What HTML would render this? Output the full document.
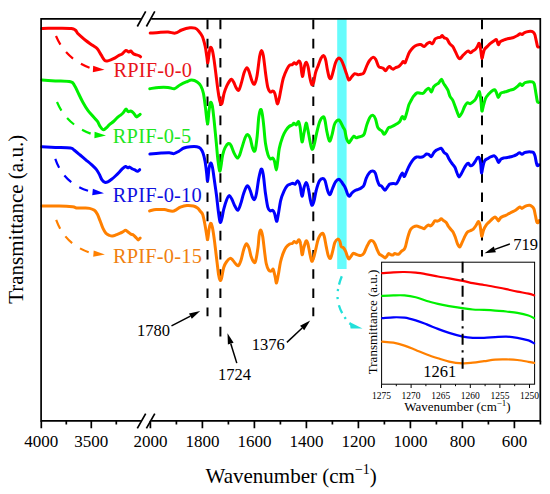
<!DOCTYPE html><html><head><meta charset="utf-8"><style>html,body{margin:0;padding:0;background:#fff;width:550px;height:494px;overflow:hidden;position:relative}</style></head><body><svg width="550" height="494" viewBox="0 0 550 494" style="position:absolute;left:0;top:0"><rect x="337.2" y="19.3" width="9.4" height="249.7" fill="#66fcfc"/><g stroke="#000" stroke-width="2" stroke-dasharray="9.6 9.6" fill="none"><path d="M207.5,19.6 V316.2"/><path d="M220.4,19.6 V336.7"/><path d="M313.3,19.6 V316.2"/><path d="M482.0,19.6 V256.6"/></g><g fill="none" stroke-width="3" stroke-linejoin="round" stroke-linecap="round"><path stroke="#ff0000" d="M41.9,28.5 C46.8,28.5 65.5,27.6 71.5,28.5 C77.5,29.4 75.8,31.9 78.2,33.9 C80.6,35.9 83.4,38.6 85.8,40.5 C88.2,42.4 90.6,43.9 92.5,45.3 C94.4,46.7 95.9,47.2 97.3,48.8 C98.7,50.4 99.8,52.9 101.1,54.9 C102.4,56.9 103.6,59.6 104.9,60.6 C106.2,61.6 107.3,60.9 108.7,60.6 C110.1,60.3 111.9,59.5 113.5,58.7 C115.1,57.9 116.9,56.6 118.3,55.8 C119.7,55.0 120.8,54.8 122.1,53.9 C123.4,53.0 124.8,50.8 125.9,50.5 C127.0,50.2 128.0,51.9 128.8,52.0 C129.6,52.1 129.9,50.7 130.7,51.0 C131.5,51.3 132.6,53.2 133.6,53.9 C134.6,54.5 135.4,54.6 136.4,54.9 C137.4,55.2 138.6,55.5 139.3,55.8 C140.0,56.1 140.4,56.6 140.6,56.8"/><path stroke="#00f000" d="M41.9,79.9 C44.1,80.1 50.5,80.6 55.3,80.9 C60.1,81.2 67.3,81.1 70.5,81.8 C73.7,82.5 73.1,83.4 74.4,85.3 C75.7,87.2 76.8,90.0 78.2,92.9 C79.6,95.8 81.4,99.6 83.0,102.5 C84.6,105.4 86.1,107.9 87.7,110.1 C89.3,112.3 90.9,113.9 92.5,115.8 C94.1,117.7 96.0,119.5 97.3,121.2 C98.6,123.0 99.1,124.9 100.1,126.3 C101.0,127.7 102.0,129.3 103.0,129.6 C104.0,129.9 104.8,129.1 105.9,128.2 C107.0,127.3 108.4,125.5 109.7,124.4 C111.0,123.3 112.2,122.6 113.5,121.5 C114.8,120.4 116.2,118.7 117.3,117.7 C118.4,116.7 119.2,116.2 120.2,115.4 C121.2,114.6 122.0,114.0 123.0,113.0 C124.0,112.0 125.0,109.3 125.9,109.1 C126.8,108.9 127.4,111.3 128.2,111.6 C129.0,111.9 129.8,110.8 130.7,111.0 C131.6,111.2 132.6,112.0 133.5,113.0 C134.4,114.0 135.6,116.3 136.4,116.8 C137.2,117.3 137.7,116.2 138.3,115.8 C138.9,115.4 139.9,114.5 140.2,114.3"/><path stroke="#0000ff" d="M41.9,146.8 C44.1,146.9 50.5,147.2 55.3,147.4 C60.1,147.6 67.3,147.5 70.5,148.0 C73.7,148.5 72.8,149.1 74.4,150.3 C76.0,151.5 78.2,153.4 80.1,155.0 C82.0,156.6 83.9,158.2 85.8,159.8 C87.7,161.4 89.8,163.0 91.5,164.6 C93.2,166.2 95.0,167.8 96.3,169.4 C97.6,171.0 98.2,172.3 99.2,174.1 C100.2,175.8 101.0,178.5 102.0,179.9 C103.0,181.3 103.9,182.0 104.9,182.3 C105.9,182.6 106.7,182.3 107.8,181.8 C108.9,181.3 110.3,180.3 111.6,179.3 C112.9,178.3 114.1,177.2 115.4,176.0 C116.7,174.8 118.1,173.4 119.2,172.2 C120.3,171.0 121.0,169.9 122.1,169.0 C123.1,168.1 124.5,166.7 125.5,166.5 C126.5,166.3 127.1,167.7 127.8,167.8 C128.5,167.9 128.9,166.9 129.7,167.1 C130.5,167.3 131.6,168.5 132.6,169.0 C133.6,169.5 134.7,169.9 135.5,170.3 C136.3,170.7 136.7,171.4 137.4,171.3 C138.1,171.2 139.3,170.0 139.7,169.7"/><path stroke="#ff8000" d="M41.9,205.9 C44.8,205.9 54.0,205.9 59.1,206.1 C64.2,206.2 69.5,206.5 72.5,206.8 C75.5,207.1 75.3,207.8 77.2,208.0 C79.1,208.2 81.8,207.9 83.9,208.0 C86.0,208.1 87.8,208.0 89.6,208.4 C91.3,208.8 93.1,209.4 94.4,210.3 C95.7,211.2 96.3,212.3 97.3,214.1 C98.2,215.8 99.1,218.4 100.1,220.8 C101.0,223.2 102.0,226.3 103.0,228.4 C104.0,230.5 104.8,232.0 105.9,233.2 C107.0,234.4 108.6,235.0 109.7,235.5 C110.8,236.0 111.4,236.1 112.5,236.0 C113.6,235.9 115.1,235.2 116.4,234.7 C117.7,234.2 119.1,233.7 120.2,233.2 C121.3,232.7 122.1,232.2 123.0,231.7 C123.9,231.2 124.7,230.3 125.5,230.3 C126.3,230.3 126.9,231.1 127.8,231.7 C128.7,232.3 129.8,233.5 130.7,234.1 C131.6,234.7 132.6,234.4 133.5,235.1 C134.4,235.8 135.6,237.2 136.4,238.0 C137.2,238.8 137.7,239.9 138.3,239.9 C138.9,239.9 139.9,238.3 140.2,238.0"/><path stroke="#ff0000" d="M150.2,33.1 C151.6,33.0 155.9,32.6 158.9,32.4 C161.9,32.2 165.3,31.9 168.0,32.0 C170.7,32.1 173.0,33.4 175.3,33.1 C177.6,32.8 179.3,30.9 181.7,30.0 C184.1,29.1 187.7,28.1 189.9,27.8 C192.1,27.5 193.6,27.7 195.0,28.2 C196.4,28.7 197.4,29.5 198.6,30.9 C199.8,32.3 201.2,34.0 202.3,36.4 C203.4,38.8 204.2,42.2 205.0,45.5 C205.8,48.8 206.3,53.5 206.8,56.4 C207.3,59.3 207.4,63.4 207.8,62.8 C208.2,62.2 208.8,55.4 209.2,52.8 C209.6,50.2 210.0,47.8 210.5,47.3 C211.0,46.8 211.7,48.0 212.3,50.1 C212.9,52.2 213.5,56.0 214.1,60.1 C214.7,64.2 215.4,69.9 216.0,74.7 C216.6,79.5 217.2,85.0 217.8,89.2 C218.4,93.5 219.1,97.7 219.6,100.2 C220.1,102.7 220.6,103.9 221.1,104.2 C221.6,104.5 221.8,103.9 222.3,102.0 C222.8,100.1 223.4,95.6 224.2,92.9 C225.0,90.2 226.0,87.6 226.9,85.6 C227.8,83.6 228.8,82.1 229.6,81.0 C230.3,79.9 230.7,79.0 231.4,79.2 C232.1,79.4 232.8,80.6 233.6,82.0 C234.4,83.4 235.2,86.0 236.0,87.4 C236.8,88.8 237.8,91.0 238.7,90.2 C239.6,89.5 240.5,85.8 241.4,82.9 C242.3,80.0 243.2,75.3 244.1,72.8 C245.0,70.3 246.1,67.8 246.9,67.7 C247.8,67.6 248.3,69.7 249.2,71.9 C250.0,74.1 251.1,79.0 252.0,81.0 C252.9,83.0 253.7,84.8 254.5,84.1 C255.3,83.3 256.0,81.1 256.9,76.5 C257.8,71.9 258.9,60.7 259.6,56.4 C260.4,52.1 260.8,50.8 261.4,50.6 C262.0,50.5 262.6,51.8 263.3,55.5 C264.0,59.2 264.8,67.5 265.5,72.8 C266.2,78.1 267.0,84.2 267.8,87.4 C268.6,90.6 269.4,91.4 270.2,92.0 C271.0,92.6 272.0,90.9 272.7,91.1 C273.4,91.2 274.1,91.7 274.6,92.9 C275.2,94.1 275.6,96.6 276.0,98.4 C276.4,100.2 276.8,103.5 277.3,103.8 C277.8,104.1 278.2,102.3 278.8,100.2 C279.4,98.1 279.9,94.8 280.6,91.1 C281.4,87.4 282.2,81.9 283.3,78.3 C284.4,74.7 285.9,71.4 287.0,69.2 C288.1,67.0 288.8,66.0 289.7,65.2 C290.6,64.4 291.6,65.0 292.4,64.6 C293.1,64.2 293.5,62.9 294.2,62.8 C294.9,62.7 295.6,64.4 296.4,64.1 C297.2,63.8 298.1,61.1 298.8,61.0 C299.5,60.9 300.0,61.1 300.6,63.7 C301.2,66.3 301.7,76.2 302.4,76.5 C303.1,76.8 303.9,68.0 304.6,65.6 C305.3,63.2 305.8,62.0 306.4,62.3 C307.0,62.6 307.6,64.7 308.2,67.4 C308.8,70.1 309.4,75.4 310.0,78.3 C310.6,81.2 311.2,84.1 311.8,84.7 C312.4,85.3 313.1,84.0 313.7,82.0 C314.3,80.0 314.8,75.5 315.5,72.8 C316.2,70.1 317.3,68.0 318.2,65.6 C319.1,63.2 320.1,60.0 321.0,58.3 C321.9,56.6 322.6,55.4 323.3,55.5 C324.1,55.6 324.8,56.9 325.5,59.2 C326.2,61.5 326.7,66.2 327.3,69.2 C327.9,72.2 328.6,75.9 329.2,77.4 C329.8,78.9 330.4,79.1 331.0,78.3 C331.6,77.5 332.1,75.4 332.8,72.8 C333.6,70.2 334.6,65.2 335.5,62.8 C336.4,60.4 337.4,58.8 338.3,58.3 C339.2,57.8 340.1,58.5 341.0,59.7 C341.9,60.9 342.8,63.2 343.7,65.6 C344.6,67.9 345.6,71.4 346.5,73.8 C347.4,76.2 347.9,79.6 348.8,80.1 C349.7,80.5 350.9,77.5 351.9,76.5 C352.9,75.5 353.7,74.1 354.7,73.8 C355.7,73.5 356.9,74.6 358.0,74.7 C359.1,74.8 360.0,74.6 361.0,74.3 C362.0,74.0 362.9,74.1 363.8,72.8 C364.7,71.5 365.6,68.5 366.5,66.5 C367.4,64.5 368.1,62.5 369.2,61.0 C370.3,59.5 371.8,57.7 372.9,57.4 C374.0,57.1 374.7,57.7 375.6,59.2 C376.6,60.7 377.6,65.1 378.6,66.5 C379.6,67.9 380.6,67.4 381.4,67.7 C382.2,68.0 382.5,67.8 383.2,68.3 C383.9,68.8 384.8,70.8 385.6,70.7 C386.4,70.6 387.1,68.4 387.8,67.7 C388.5,67.0 389.0,66.4 389.6,66.5 C390.2,66.6 390.8,67.8 391.4,68.3 C392.0,68.8 392.5,69.3 393.2,69.2 C393.9,69.1 394.5,68.2 395.4,67.7 C396.3,67.2 397.7,67.2 398.7,66.5 C399.7,65.8 400.6,64.5 401.4,63.7 C402.1,62.9 402.6,61.6 403.2,61.5 C403.8,61.4 404.5,63.3 405.1,62.8 C405.7,62.3 406.1,60.1 406.9,58.3 C407.6,56.5 408.5,53.7 409.6,51.9 C410.7,50.1 412.1,48.4 413.3,47.3 C414.5,46.2 415.7,45.5 416.9,45.1 C418.1,44.7 419.4,44.4 420.6,44.6 C421.8,44.8 423.1,46.5 424.2,46.4 C425.3,46.2 426.1,44.4 427.0,43.7 C427.9,43.0 428.8,42.2 429.7,42.2 C430.6,42.2 431.5,44.2 432.4,43.7 C433.3,43.2 434.2,40.1 435.1,39.1 C436.0,38.1 437.0,38.0 437.9,37.7 C438.8,37.4 439.9,37.7 440.6,37.3 C441.3,36.9 441.5,35.4 442.1,35.5 C442.7,35.6 443.4,37.1 444.2,37.7 C445.0,38.3 446.1,38.1 447.0,39.1 C447.9,40.1 448.8,42.5 449.7,43.7 C450.6,44.9 451.7,45.0 452.7,46.4 C453.7,47.8 454.6,50.1 455.5,51.9 C456.4,53.7 457.4,56.3 458.2,57.4 C458.9,58.5 459.2,59.0 460.0,58.7 C460.8,58.4 461.9,56.6 462.8,55.6 C463.7,54.6 464.6,53.6 465.5,52.8 C466.4,52.0 467.4,51.0 468.2,51.0 C469.0,51.0 469.6,52.8 470.4,52.8 C471.2,52.8 471.9,51.6 472.8,51.0 C473.7,50.4 474.7,50.0 475.5,49.2 C476.3,48.4 476.8,47.4 477.4,46.4 C478.0,45.4 478.7,42.8 479.2,43.3 C479.7,43.8 480.2,46.7 480.6,49.2 C481.1,51.7 481.5,57.5 481.9,58.3 C482.3,59.0 482.8,55.2 483.2,53.7 C483.6,52.2 483.9,50.4 484.6,49.2 C485.3,48.0 486.5,47.3 487.4,46.4 C488.3,45.5 489.0,44.6 490.1,43.7 C491.2,42.8 492.7,41.7 493.8,41.0 C494.9,40.3 495.8,39.1 496.5,39.7 C497.2,40.3 497.7,44.2 498.3,44.6 C498.9,45.0 499.3,42.6 500.1,41.9 C500.9,41.2 501.8,40.9 502.9,40.4 C504.0,39.9 505.3,39.5 506.5,39.1 C507.7,38.7 509.0,38.5 510.2,38.2 C511.4,37.9 512.6,37.8 513.8,37.3 C515.0,36.8 516.4,36.1 517.5,35.5 C518.6,34.9 519.5,33.9 520.2,33.7 C521.0,33.6 521.4,34.7 522.0,34.6 C522.6,34.5 523.1,33.6 523.9,33.1 C524.7,32.6 525.5,32.2 526.6,31.9 C527.7,31.6 529.1,31.3 530.2,31.3 C531.3,31.3 532.2,31.3 533.0,31.9 C533.8,32.4 534.3,33.2 534.8,34.6 C535.3,36.0 535.6,38.1 536.1,40.1 C536.6,42.1 537.0,45.2 537.5,46.4 C538.0,47.5 538.6,46.9 538.8,47.0"/><path stroke="#00f000" d="M149.8,88.7 C151.3,88.5 155.9,87.6 158.9,87.4 C161.9,87.2 165.4,87.2 168.0,87.4 C170.6,87.6 172.4,89.1 174.4,88.7 C176.4,88.3 177.9,86.1 179.9,85.0 C181.9,83.9 184.3,82.7 186.3,81.9 C188.3,81.1 189.9,80.1 191.7,80.1 C193.5,80.1 195.7,80.9 197.2,81.9 C198.7,82.9 199.8,84.0 200.8,85.9 C201.8,87.8 202.6,89.5 203.4,93.2 C204.2,96.9 204.8,102.9 205.5,108.0 C206.2,113.1 206.9,123.2 207.5,123.7 C208.1,124.2 208.5,114.6 209.0,111.1 C209.5,107.6 210.0,103.5 210.5,102.5 C211.0,101.5 211.6,102.9 212.2,105.4 C212.8,107.9 213.1,111.5 213.8,117.6 C214.5,123.7 215.5,135.0 216.2,141.9 C216.9,148.8 217.2,154.2 217.8,159.0 C218.4,163.8 219.1,169.9 219.6,171.0 C220.1,172.1 220.6,168.2 221.1,165.5 C221.6,162.8 222.0,157.9 222.7,154.9 C223.4,151.9 224.1,149.5 225.1,147.6 C226.1,145.7 227.4,143.9 228.4,143.5 C229.4,143.1 229.9,143.5 230.8,145.1 C231.8,146.7 233.0,151.0 234.1,153.2 C235.2,155.4 236.4,157.8 237.3,158.1 C238.2,158.4 238.9,156.8 239.7,154.9 C240.5,153.0 241.2,149.8 242.2,146.8 C243.1,143.8 244.5,139.0 245.4,137.0 C246.3,135.0 247.0,134.3 247.8,134.6 C248.6,134.9 249.5,136.3 250.3,138.6 C251.1,140.9 251.9,146.4 252.7,148.4 C253.5,150.4 254.3,152.6 255.1,150.5 C255.8,148.4 256.6,141.6 257.2,136.0 C257.8,130.4 258.2,121.4 258.8,117.0 C259.4,112.6 260.1,110.0 260.7,109.5 C261.3,109.0 261.8,111.3 262.3,114.3 C262.8,117.3 263.4,122.4 263.9,127.3 C264.4,132.2 264.8,138.9 265.5,143.5 C266.2,148.1 267.2,152.3 268.0,154.9 C268.8,157.5 269.6,158.4 270.4,158.9 C271.2,159.4 272.1,157.7 272.8,158.1 C273.5,158.5 273.9,159.3 274.5,161.3 C275.1,163.3 275.8,170.0 276.3,170.0 C276.8,170.0 277.2,164.9 277.7,161.3 C278.2,157.7 278.5,152.5 279.3,148.4 C280.1,144.3 281.5,140.0 282.6,137.0 C283.7,134.0 284.7,132.2 285.8,130.5 C286.9,128.8 288.0,127.4 289.1,126.5 C290.2,125.6 291.5,125.5 292.3,124.9 C293.1,124.4 293.2,123.2 293.9,123.2 C294.6,123.2 295.5,125.2 296.3,124.9 C297.1,124.6 297.9,121.2 298.5,121.6 C299.1,122.0 299.5,123.9 300.1,127.3 C300.7,130.7 301.4,141.0 302.0,141.9 C302.6,142.8 303.3,136.1 304.0,133.0 C304.7,129.9 305.5,123.9 306.1,123.2 C306.7,122.5 307.0,125.8 307.7,128.9 C308.4,132.0 309.4,138.5 310.1,141.9 C310.8,145.3 311.3,148.7 312.0,149.2 C312.7,149.7 313.4,147.7 314.1,145.1 C314.9,142.5 315.6,137.7 316.5,133.8 C317.4,129.9 318.6,124.4 319.7,121.6 C320.8,118.8 322.1,117.1 323.0,116.8 C323.9,116.5 324.2,117.4 324.9,120.0 C325.6,122.6 326.2,128.7 327.0,132.2 C327.8,135.7 328.7,140.6 329.5,141.1 C330.3,141.6 331.1,138.1 331.9,135.4 C332.7,132.7 333.5,127.3 334.3,124.9 C335.1,122.5 336.0,121.6 336.8,120.8 C337.6,120.0 338.2,119.7 338.9,120.0 C339.6,120.3 340.1,121.2 340.8,122.4 C341.5,123.6 342.5,126.0 343.2,127.3 C343.9,128.7 344.3,128.6 344.9,130.5 C345.4,132.4 345.8,136.6 346.5,138.6 C347.2,140.6 348.1,142.5 348.9,142.7 C349.7,142.8 350.5,140.6 351.3,139.5 C352.1,138.4 353.0,136.5 353.8,136.2 C354.6,135.9 355.4,137.7 356.2,137.8 C357.0,137.9 357.7,137.3 358.6,137.0 C359.6,136.7 360.9,136.7 361.9,136.2 C362.8,135.7 363.5,135.7 364.3,133.8 C365.1,131.9 365.9,127.7 366.8,124.9 C367.7,122.2 368.8,118.9 369.9,117.3 C370.9,115.7 372.2,115.1 373.1,115.4 C374.0,115.7 374.8,117.0 375.5,118.9 C376.2,120.8 376.9,125.2 377.6,127.0 C378.3,128.8 378.9,128.8 379.6,129.5 C380.3,130.2 381.2,130.3 382.0,131.1 C382.8,131.9 383.4,134.2 384.1,134.3 C384.8,134.4 385.4,133.0 386.1,131.9 C386.8,130.8 387.7,128.6 388.5,127.8 C389.3,127.0 389.9,127.4 390.9,127.0 C391.8,126.6 393.1,126.0 394.2,125.4 C395.3,124.8 396.4,124.2 397.4,123.5 C398.3,122.8 399.1,122.6 399.9,121.4 C400.7,120.2 401.5,116.9 402.3,116.5 C403.1,116.1 403.9,119.6 404.7,118.9 C405.4,118.2 406.1,114.7 406.8,112.4 C407.5,110.1 408.1,107.1 408.8,105.1 C409.5,103.1 410.4,101.8 411.2,100.3 C412.0,98.8 412.7,97.4 413.6,96.2 C414.6,95.0 415.7,93.5 416.9,93.0 C418.1,92.5 419.5,93.3 420.6,93.3 C421.7,93.3 422.4,93.7 423.3,93.2 C424.2,92.7 425.1,91.0 426.0,90.2 C426.9,89.4 427.9,88.0 428.8,88.3 C429.7,88.6 430.8,92.2 431.5,92.0 C432.2,91.8 432.6,88.6 433.3,87.4 C434.1,86.2 435.1,85.5 436.0,84.7 C436.9,84.0 437.9,83.8 438.8,82.9 C439.7,82.0 440.8,79.2 441.5,79.2 C442.2,79.2 442.7,81.8 443.3,82.9 C443.9,84.0 444.3,84.4 445.1,85.6 C445.9,86.8 447.1,88.4 447.9,90.2 C448.7,92.0 449.2,94.8 450.0,96.4 C450.8,98.1 451.8,98.3 452.7,100.1 C453.6,101.9 454.6,105.0 455.5,107.4 C456.4,109.8 457.5,113.2 458.2,114.7 C458.9,116.2 458.9,116.8 459.5,116.5 C460.1,116.2 461.0,114.6 461.9,112.9 C462.8,111.2 463.7,108.2 464.6,106.5 C465.5,104.8 466.4,103.3 467.3,102.8 C468.2,102.3 469.2,103.8 470.1,103.7 C471.0,103.6 471.9,102.7 472.8,101.9 C473.7,101.2 474.6,100.6 475.5,99.2 C476.4,97.8 477.6,94.9 478.3,93.7 C479.0,92.5 479.1,90.7 479.5,91.9 C479.9,93.1 480.6,97.8 481.0,101.0 C481.4,104.2 481.5,110.1 481.9,111.0 C482.3,111.9 482.6,108.6 483.2,106.5 C483.8,104.4 484.8,100.3 485.6,98.3 C486.5,96.3 487.2,95.8 488.3,94.6 C489.4,93.4 490.8,91.8 491.9,91.0 C493.0,90.2 493.9,89.4 494.7,89.7 C495.5,90.0 495.9,91.5 496.5,92.8 C497.1,94.1 497.6,97.3 498.3,97.4 C499.0,97.5 499.8,94.2 500.7,93.3 C501.6,92.4 502.8,92.5 503.8,92.2 C504.8,91.9 505.4,91.8 506.5,91.5 C507.6,91.2 509.0,90.5 510.2,90.1 C511.4,89.7 512.6,89.7 513.8,89.1 C515.0,88.5 516.4,87.3 517.5,86.4 C518.6,85.5 519.5,83.9 520.2,83.7 C521.0,83.5 521.2,85.7 522.0,85.5 C522.8,85.3 523.7,83.4 524.8,82.8 C525.9,82.2 527.2,82.1 528.4,81.9 C529.6,81.8 531.1,81.6 532.1,81.9 C533.1,82.2 533.6,82.0 534.2,83.7 C534.8,85.4 535.2,89.0 535.7,91.9 C536.2,94.8 536.8,99.2 537.2,101.0 C537.7,102.8 538.2,102.2 538.4,102.5"/><path stroke="#0000ff" d="M149.9,154.1 C151.8,153.9 158.0,153.3 161.2,153.1 C164.4,152.9 167.2,152.7 169.3,152.8 C171.5,152.9 172.5,153.9 174.1,153.6 C175.7,153.3 177.4,152.1 179.0,151.2 C180.6,150.3 182.0,148.8 183.9,148.0 C185.8,147.2 188.2,146.9 190.3,146.7 C192.5,146.5 195.1,146.4 196.8,146.7 C198.5,147.0 199.5,147.4 200.5,148.5 C201.5,149.6 202.2,150.8 203.0,153.0 C203.8,155.2 204.5,158.2 205.1,161.5 C205.7,164.8 206.2,169.5 206.6,172.7 C207.0,175.9 207.2,181.5 207.6,180.8 C208.0,180.1 208.5,171.5 209.0,168.5 C209.5,165.5 210.2,163.2 210.8,163.0 C211.4,162.8 211.9,164.8 212.5,167.5 C213.1,170.2 213.5,174.5 214.2,179.0 C214.8,183.5 215.7,189.2 216.4,194.5 C217.1,199.8 217.7,206.4 218.3,211.0 C218.9,215.6 219.5,220.9 220.1,222.1 C220.7,223.3 221.3,220.5 221.9,218.4 C222.5,216.3 222.9,212.3 223.7,209.3 C224.5,206.3 225.6,202.5 226.5,200.2 C227.4,197.9 228.3,195.8 229.2,195.6 C230.1,195.4 231.0,197.6 231.9,199.3 C232.8,201.0 233.7,203.9 234.7,205.7 C235.7,207.5 236.8,210.5 237.8,210.2 C238.8,209.9 239.7,206.7 240.7,203.8 C241.7,200.9 242.7,195.9 243.8,192.9 C244.9,189.9 246.2,186.4 247.2,185.9 C248.2,185.4 249.1,187.8 249.9,189.7 C250.8,191.5 251.6,195.4 252.3,197.0 C253.1,198.6 253.7,200.0 254.4,199.5 C255.1,199.0 255.7,197.3 256.4,193.8 C257.1,190.3 258.0,182.5 258.8,178.4 C259.6,174.3 260.5,169.8 261.2,169.1 C261.9,168.4 262.5,170.5 263.2,174.3 C263.9,178.2 264.6,186.8 265.3,192.2 C266.1,197.6 266.9,203.7 267.7,206.8 C268.5,209.9 269.3,210.2 270.1,210.8 C270.9,211.4 271.9,209.9 272.6,210.3 C273.3,210.7 273.8,211.4 274.5,213.2 C275.2,215.0 276.0,221.0 276.6,221.3 C277.2,221.6 277.5,218.4 278.2,214.9 C278.9,211.4 279.8,204.2 280.7,200.3 C281.6,196.4 282.8,193.7 283.9,191.3 C285.0,188.9 286.1,186.9 287.2,185.7 C288.3,184.5 289.5,184.5 290.4,184.1 C291.3,183.7 292.0,183.2 292.8,183.2 C293.6,183.2 294.5,184.5 295.3,184.1 C296.1,183.7 296.9,180.5 297.7,180.8 C298.5,181.1 299.4,183.1 300.1,185.7 C300.8,188.3 301.3,195.9 302.0,196.2 C302.7,196.5 303.4,189.6 304.1,187.3 C304.8,185.0 305.5,182.4 306.2,182.4 C306.9,182.4 307.5,184.6 308.1,187.3 C308.8,190.0 309.5,195.6 310.1,198.6 C310.7,201.6 311.1,204.5 311.7,205.1 C312.3,205.7 313.1,204.3 313.8,201.9 C314.6,199.5 315.2,194.0 316.2,190.5 C317.1,187.0 318.4,182.8 319.5,180.8 C320.6,178.8 321.8,178.4 322.7,178.4 C323.6,178.4 324.3,178.8 325.1,180.8 C325.9,182.8 326.8,188.2 327.6,190.5 C328.4,192.8 329.2,194.9 330.0,194.6 C330.8,194.3 331.4,191.1 332.4,188.9 C333.3,186.7 334.6,183.2 335.7,181.6 C336.8,180.0 338.0,179.2 338.9,179.2 C339.8,179.2 340.6,180.8 341.3,181.6 C342.0,182.4 342.3,183.0 343.0,184.1 C343.7,185.2 344.6,186.3 345.4,188.1 C346.2,189.8 347.1,193.2 347.8,194.6 C348.5,195.9 348.8,196.5 349.5,196.2 C350.2,195.9 351.0,193.9 351.9,193.0 C352.8,192.1 354.1,191.1 355.1,190.5 C356.2,189.9 357.1,189.8 358.2,189.4 C359.3,189.0 360.6,188.5 361.5,187.8 C362.4,187.1 363.1,187.0 363.9,185.4 C364.7,183.8 365.4,180.3 366.3,178.1 C367.2,175.9 368.5,173.6 369.6,172.4 C370.7,171.2 371.9,171.0 372.8,171.1 C373.8,171.2 374.5,171.6 375.3,173.2 C376.1,174.8 376.7,178.5 377.4,180.5 C378.1,182.5 378.6,184.1 379.3,185.0 C380.0,185.9 380.8,185.3 381.7,186.2 C382.6,187.1 384.1,190.1 385.0,190.2 C385.9,190.3 386.6,188.0 387.4,187.0 C388.2,186.0 388.9,184.7 389.8,184.1 C390.8,183.5 392.0,183.4 393.1,183.4 C394.2,183.4 395.4,184.4 396.3,183.8 C397.2,183.2 397.9,181.5 398.8,179.7 C399.8,177.9 401.1,173.7 402.0,173.2 C402.9,172.7 403.6,176.9 404.4,176.5 C405.2,176.1 405.9,172.8 406.9,170.8 C407.8,168.8 409.0,166.2 410.1,164.3 C411.2,162.4 412.2,160.6 413.3,159.4 C414.4,158.2 415.5,157.4 416.6,157.0 C417.7,156.6 418.9,157.2 420.0,157.2 C421.1,157.1 422.1,157.2 423.2,156.7 C424.3,156.2 425.6,154.3 426.5,154.0 C427.4,153.7 428.1,154.2 428.9,154.6 C429.7,155.0 430.5,157.0 431.3,156.7 C432.1,156.4 433.0,153.8 433.8,152.7 C434.6,151.6 435.4,150.9 436.2,150.3 C437.0,149.7 437.8,149.4 438.6,149.1 C439.4,148.8 440.4,148.0 441.1,148.2 C441.8,148.4 442.2,149.6 442.7,150.3 C443.2,151.1 443.6,152.0 444.3,152.7 C445.0,153.4 445.9,153.2 446.7,154.3 C447.5,155.4 448.2,157.6 449.2,159.2 C450.1,160.8 451.4,162.7 452.4,164.0 C453.3,165.3 454.1,165.8 454.9,167.3 C455.7,168.8 456.3,171.4 457.0,173.0 C457.7,174.6 458.2,176.9 458.9,177.0 C459.6,177.1 460.5,175.2 461.3,173.8 C462.1,172.5 463.0,170.4 463.8,168.9 C464.6,167.4 465.4,165.9 466.2,164.9 C466.9,163.9 467.6,163.1 468.3,163.2 C469.0,163.3 469.6,165.4 470.3,165.7 C471.0,166.0 471.9,165.6 472.7,164.9 C473.5,164.2 474.3,162.8 475.1,161.6 C475.9,160.4 476.8,158.2 477.5,157.6 C478.2,157.0 478.8,156.9 479.3,158.0 C479.8,159.1 480.3,161.5 480.7,164.0 C481.1,166.5 481.1,172.3 481.5,172.9 C481.9,173.5 482.3,169.3 482.8,167.3 C483.3,165.3 483.8,162.3 484.7,160.8 C485.6,159.3 486.9,159.1 488.0,158.4 C489.1,157.7 490.1,157.1 491.2,156.7 C492.3,156.3 493.5,155.6 494.4,155.9 C495.3,156.2 495.9,157.3 496.6,158.4 C497.3,159.5 497.8,162.3 498.5,162.4 C499.2,162.5 499.9,159.9 500.9,159.2 C501.8,158.4 503.1,158.2 504.2,157.9 C505.3,157.6 506.3,157.7 507.4,157.5 C508.5,157.3 509.6,157.0 510.7,156.7 C511.8,156.4 512.8,156.3 513.9,155.9 C515.0,155.5 516.1,154.8 517.1,154.3 C518.1,153.8 518.8,152.7 519.6,152.7 C520.4,152.7 521.2,154.3 522.0,154.3 C522.8,154.3 523.4,153.1 524.4,152.7 C525.4,152.3 526.6,152.0 527.7,151.9 C528.8,151.8 530.0,151.8 530.9,151.9 C531.8,152.0 532.6,151.7 533.3,152.4 C534.0,153.1 534.5,154.2 535.0,155.9 C535.5,157.6 535.9,160.8 536.3,162.4 C536.7,164.0 536.9,165.3 537.4,165.7 C537.9,166.1 538.7,165.0 539.0,164.8"/><path stroke="#ff8000" d="M149.6,210.9 C150.7,210.7 153.7,209.8 156.1,209.6 C158.5,209.4 161.5,209.3 164.2,209.6 C166.9,209.9 170.3,211.2 172.3,211.2 C174.3,211.2 175.1,210.3 176.4,209.6 C177.8,208.9 178.7,207.9 180.4,207.2 C182.2,206.5 184.7,205.7 186.9,205.5 C189.1,205.3 191.6,205.6 193.4,206.0 C195.2,206.4 196.3,207.1 197.5,208.0 C198.7,208.9 199.6,210.4 200.5,211.5 C201.4,212.6 201.9,212.3 202.7,214.6 C203.5,216.9 204.4,221.8 205.1,225.5 C205.8,229.2 206.5,234.2 206.9,236.5 C207.3,238.8 207.3,240.4 207.7,239.2 C208.1,238.0 208.6,231.8 209.1,229.2 C209.6,226.5 210.0,223.6 210.6,223.3 C211.2,223.0 211.7,224.3 212.4,227.4 C213.1,230.5 213.9,236.4 214.6,241.9 C215.3,247.4 216.1,254.7 216.8,260.2 C217.5,265.7 218.1,271.5 218.6,274.8 C219.1,278.1 219.6,279.6 220.1,280.2 C220.6,280.8 220.9,280.5 221.5,278.4 C222.1,276.3 222.9,270.2 223.7,267.5 C224.5,264.8 225.3,263.5 226.4,262.0 C227.5,260.5 229.0,258.7 230.1,258.4 C231.2,258.1 231.9,259.3 232.8,260.2 C233.7,261.1 234.7,262.9 235.6,263.8 C236.5,264.7 237.4,266.3 238.3,265.7 C239.2,265.1 240.1,262.9 241.0,260.2 C241.9,257.4 242.9,251.9 243.8,249.2 C244.7,246.5 245.7,244.0 246.5,243.8 C247.3,243.6 248.1,245.7 248.9,247.8 C249.7,249.9 250.3,254.1 251.1,256.5 C251.9,258.9 253.1,261.2 253.8,262.0 C254.6,262.8 254.9,263.5 255.6,261.1 C256.3,258.7 257.4,251.8 258.0,247.4 C258.6,243.0 258.7,237.6 259.2,234.7 C259.7,231.8 260.2,229.8 260.8,230.1 C261.4,230.4 262.1,233.0 262.7,236.5 C263.3,240.0 263.9,246.5 264.5,251.1 C265.1,255.7 265.6,260.6 266.3,263.8 C267.0,267.0 267.9,269.0 268.7,270.2 C269.5,271.4 270.6,271.2 271.4,271.1 C272.1,271.0 272.6,268.4 273.2,269.3 C273.8,270.2 274.6,274.3 275.1,276.6 C275.7,278.9 276.0,283.3 276.5,283.0 C277.0,282.7 277.6,278.3 278.3,274.8 C279.0,271.3 279.7,265.6 280.5,262.0 C281.3,258.4 282.4,255.3 283.3,252.9 C284.2,250.5 284.9,248.9 286.0,247.4 C287.1,245.9 288.6,244.8 289.7,244.1 C290.8,243.4 291.6,243.8 292.4,243.4 C293.1,243.0 293.5,241.7 294.2,241.6 C294.9,241.5 295.8,243.2 296.6,242.9 C297.4,242.6 298.1,239.7 298.8,239.8 C299.5,240.0 300.1,241.3 300.6,243.8 C301.2,246.3 301.6,254.1 302.1,254.7 C302.7,255.3 303.2,249.7 303.9,247.4 C304.6,245.1 305.4,241.6 306.1,241.0 C306.8,240.4 307.3,241.8 307.9,243.8 C308.5,245.8 309.1,250.0 309.7,252.9 C310.3,255.8 311.1,260.2 311.7,261.1 C312.3,262.0 312.8,260.1 313.5,258.2 C314.2,256.3 314.9,253.0 315.7,249.7 C316.5,246.4 317.4,241.1 318.5,238.4 C319.6,235.7 321.2,233.8 322.1,233.4 C323.1,233.0 323.5,233.9 324.2,236.2 C324.9,238.4 325.6,243.6 326.3,246.9 C327.0,250.2 327.7,254.2 328.4,256.1 C329.1,258.0 329.9,259.0 330.6,258.2 C331.3,257.4 332.0,253.7 332.7,251.1 C333.4,248.5 334.0,244.6 334.8,242.6 C335.6,240.6 336.9,239.3 337.7,239.1 C338.5,238.9 339.2,239.9 339.8,241.2 C340.4,242.4 340.6,245.5 341.2,246.6 C341.8,247.7 342.6,246.8 343.3,247.6 C344.0,248.3 344.8,249.6 345.5,251.1 C346.2,252.6 347.0,255.5 347.6,256.8 C348.2,258.1 348.4,259.0 349.0,258.9 C349.6,258.8 350.4,257.0 351.1,256.1 C351.8,255.2 352.6,253.7 353.3,253.3 C354.0,253.0 354.6,253.7 355.4,254.0 C356.2,254.3 357.2,254.9 358.2,255.1 C359.1,255.3 360.2,255.7 361.1,255.4 C362.1,255.1 363.0,254.7 363.9,253.3 C364.8,251.9 365.7,248.9 366.7,246.9 C367.7,244.9 369.0,242.1 370.0,241.1 C371.0,240.1 372.0,240.6 372.8,241.1 C373.6,241.6 374.2,242.6 374.9,244.0 C375.6,245.4 376.4,247.9 377.1,249.6 C377.8,251.2 378.5,252.9 379.2,253.9 C379.9,254.9 380.6,254.8 381.3,255.3 C382.0,255.8 382.8,256.3 383.4,256.7 C384.0,257.1 384.5,258.0 385.1,257.9 C385.7,257.8 386.4,256.7 387.0,256.0 C387.6,255.3 387.8,253.8 388.4,253.6 C389.0,253.4 389.8,254.4 390.5,254.6 C391.2,254.8 392.0,255.2 392.7,255.0 C393.4,254.8 394.1,253.7 394.8,253.6 C395.5,253.5 396.2,254.1 396.9,254.2 C397.6,254.2 398.2,254.4 399.0,253.9 C399.8,253.4 400.8,251.8 401.6,251.1 C402.4,250.4 403.4,250.3 404.0,249.6 C404.6,248.9 404.9,248.2 405.4,246.8 C405.9,245.4 406.3,243.0 406.8,241.1 C407.3,239.2 407.7,237.4 408.3,235.5 C408.9,233.6 409.6,231.2 410.4,229.8 C411.2,228.4 412.1,227.6 413.2,227.0 C414.3,226.4 415.7,226.0 416.8,226.0 C417.9,226.0 418.7,226.7 419.6,227.0 C420.5,227.3 421.3,227.6 422.1,227.9 C422.9,228.2 423.5,228.9 424.2,228.7 C424.9,228.4 425.7,227.0 426.4,226.4 C427.1,225.8 427.8,225.1 428.5,225.0 C429.2,224.9 429.9,226.1 430.6,225.9 C431.3,225.7 432.0,224.8 432.7,224.0 C433.4,223.2 434.2,221.3 434.9,220.8 C435.6,220.3 436.3,221.2 437.0,221.2 C437.7,221.1 438.4,220.9 439.1,220.5 C439.8,220.1 440.5,218.8 441.2,218.8 C441.9,218.8 442.6,219.9 443.4,220.5 C444.2,221.1 445.4,221.7 446.2,222.6 C447.0,223.5 447.6,225.1 448.3,226.2 C449.0,227.3 449.7,227.9 450.5,229.0 C451.3,230.1 452.5,231.1 453.3,232.5 C454.1,233.9 454.7,235.6 455.4,237.5 C456.1,239.4 456.8,242.3 457.5,243.9 C458.2,245.5 459.0,247.2 459.7,247.1 C460.4,247.0 461.0,244.9 461.8,243.2 C462.6,241.5 463.7,238.7 464.6,236.8 C465.6,235.0 466.6,233.1 467.5,232.1 C468.4,231.1 469.4,231.2 470.3,230.7 C471.2,230.2 472.2,230.2 473.1,229.3 C474.1,228.4 475.1,226.8 476.0,225.5 C476.9,224.2 477.7,221.7 478.4,221.6 C479.1,221.5 479.5,222.9 480.0,225.0 C480.5,227.1 481.0,232.2 481.3,234.0 C481.6,235.8 481.6,236.7 482.0,236.0 C482.4,235.3 482.9,231.6 483.7,229.7 C484.4,227.8 485.6,226.0 486.5,224.7 C487.4,223.4 488.4,222.8 489.3,221.9 C490.2,221.0 491.2,219.8 492.2,219.0 C493.1,218.2 494.2,216.9 495.0,216.9 C495.8,216.9 496.5,218.3 497.1,219.0 C497.7,219.7 497.9,221.1 498.5,220.9 C499.1,220.7 499.9,218.4 500.7,217.6 C501.5,216.8 502.6,216.6 503.5,216.2 C504.4,215.8 505.5,215.6 506.3,215.2 C507.1,214.8 507.8,214.2 508.5,213.8 C509.2,213.4 509.7,213.2 510.6,212.7 C511.5,212.2 513.0,211.6 514.1,211.0 C515.2,210.4 516.0,209.8 517.0,209.1 C518.0,208.4 519.0,207.1 519.8,207.0 C520.6,206.9 521.2,208.4 521.9,208.4 C522.6,208.4 523.2,207.5 524.0,207.0 C524.8,206.5 525.9,205.9 526.9,205.6 C527.9,205.3 528.9,205.2 529.7,205.3 C530.5,205.4 531.1,205.7 531.8,206.3 C532.5,206.9 533.4,207.6 534.0,209.1 C534.6,210.6 534.9,213.4 535.4,215.5 C535.9,217.6 536.3,220.7 536.8,221.9 C537.3,223.1 537.8,222.8 538.2,222.6 C538.6,222.4 539.0,220.8 539.2,220.5"/></g><g stroke="#000" stroke-width="1.7" fill="none"><path d="M140.9,18.9 H41.1 V420.8 H140.9"/><path d="M151.2,18.9 H540.3 V420.8 H151.2"/><path d="M137.3,26.5 L145.7,11.4 M146.4,26.5 L154.8,11.4"/><path d="M137.3,428.4 L145.7,413.6 M146.4,428.4 L154.8,413.6"/><path d="M41.3,420.8 V428.2 M91.3,420.8 V428.2 M66.3,420.8 V424.6 M116.3,420.8 V424.6 M150.4,420.8 V428.2 M202.4,420.8 V428.2 M254.4,420.8 V428.2 M306.4,420.8 V428.2 M358.4,420.8 V428.2 M410.4,420.8 V428.2 M462.4,420.8 V428.2 M514.4,420.8 V428.2 M176.4,420.8 V424.6 M228.4,420.8 V424.6 M280.4,420.8 V424.6 M332.4,420.8 V424.6 M384.4,420.8 V424.6 M436.4,420.8 V424.6 M488.4,420.8 V424.6 M540.4,420.8 V424.6"/></g><g font-family="Liberation Serif" font-size="17" text-anchor="middle" fill="#000"><text x="41.3" y="447.2">4000</text><text x="91.3" y="447.2">3500</text><text x="150.4" y="447.2">2000</text><text x="202.4" y="447.2">1800</text><text x="254.4" y="447.2">1600</text><text x="306.4" y="447.2">1400</text><text x="358.4" y="447.2">1200</text><text x="410.4" y="447.2">1000</text><text x="462.4" y="447.2">800</text><text x="514.4" y="447.2">600</text></g><text x="205.6" y="482.5" font-family="Liberation Serif" font-size="21" fill="#000">Wavenumber (cm<tspan font-size="14" dy="-9">−1</tspan><tspan dy="9">)</tspan></text><text transform="translate(23.3,303.8) rotate(-90)" font-family="Liberation Serif" font-size="21" fill="#000">Transmittance (a.u.)</text><g font-family="Liberation Serif" font-size="20.4" letter-spacing="0.2"><text x="113.5" y="76.7" fill="#e8141c">RPIF-0-0</text><text x="112.8" y="142.95" fill="#1ee61e">RPIF-0-5</text><text x="112.8" y="201.6" fill="#1010e0">RPIF-0-10</text><text x="113.0" y="263.1" fill="#f08010">RPIF-0-15</text></g><path d="M56,36 Q66,60 93,69" fill="none" stroke="#ff0000" stroke-width="2.2" stroke-dasharray="9.6 9.4"/><path d="M104.5,69.8 L92.8,72.2 L93.2,65.8 z" fill="#ff0000"/><path d="M57,102 Q67,126 94.5,135" fill="none" stroke="#00f000" stroke-width="2.2" stroke-dasharray="9.6 9.4"/><path d="M106,135.5 L94.4,138.2 L94.6,131.8 z" fill="#00f000"/><path d="M55.3,158.9 Q64,185 92.5,192" fill="none" stroke="#0000ff" stroke-width="2.2" stroke-dasharray="9.6 9.4"/><path d="M104,193.2 L92.2,195.2 L92.9,188.8 z" fill="#0000ff"/><path d="M56.2,219.8 Q65.5,246 93,253.5" fill="none" stroke="#ff8000" stroke-width="2.2" stroke-dasharray="9.6 9.4"/><path d="M104.9,254.6 L93.2,256.7 L93.7,250.4 z" fill="#ff8000"/><path d="M171.5,325.9 L190.4,316.1" stroke="#000" stroke-width="1.5"/><path d="M200.2,311.1 L191.8,318.8 L189.0,313.5 z" fill="#000"/><path d="M236.8,363.1 L230.8,343.7" stroke="#000" stroke-width="1.5"/><path d="M227.5,333.2 L233.6,342.8 L227.9,344.6 z" fill="#000"/><path d="M286.9,342.4 L302.2,328.0" stroke="#000" stroke-width="1.5"/><path d="M310.2,320.5 L304.2,330.2 L300.1,325.8 z" fill="#000"/><path d="M509.9,243.9 L494.8,249.4" stroke="#000" stroke-width="1.5"/><path d="M484.5,253.2 L493.8,246.6 L495.9,252.2 z" fill="#000"/><g font-family="Liberation Serif" font-size="16.5" fill="#000"><text x="136.9" y="335.7">1780</text><text x="218" y="379.9">1724</text><text x="251.8" y="350.3">1376</text><text x="513.3" y="249.7">719</text></g><path d="M341.8,276.3 C335.5,292 334.5,307 350.3,324.2" fill="none" stroke="#22e0da" stroke-width="2.3" stroke-dasharray="8.7 4.5 2.2 5.8 2.2 6.2"/><path d="M362.5,328.4 L349.6,322.1 L350.6,328.4 z" fill="#22e0da"/><rect x="381.6" y="262.2" width="153" height="122" fill="#fff" stroke="#000" stroke-width="1"/><g fill="none" stroke-width="2.2" stroke-linecap="round"><path stroke="#ff0000" d="M382.2,273.1 C384.1,273.0 389.7,272.5 393.4,272.3 C397.1,272.1 400.8,271.9 404.5,272.0 C408.2,272.1 412.0,272.3 415.7,272.7 C419.4,273.1 423.1,273.7 426.8,274.3 C430.5,274.9 434.2,275.8 437.9,276.5 C441.6,277.2 445.0,277.6 449.1,278.3 C453.2,279.0 458.9,280.1 462.8,280.9 C466.8,281.7 469.3,282.5 472.8,283.2 C476.3,283.9 480.3,284.4 484.0,285.0 C487.7,285.6 491.4,286.3 495.1,287.0 C498.8,287.7 502.6,288.4 506.3,289.2 C510.0,290.0 513.7,290.9 517.4,291.6 C521.1,292.3 525.7,293.0 528.5,293.6 C531.3,294.2 533.2,295.1 534.1,295.4"/><path stroke="#00f000" d="M382.2,295.9 C384.1,295.8 389.7,295.5 393.4,295.4 C397.1,295.3 400.8,295.1 404.5,295.4 C408.2,295.7 412.0,296.3 415.7,297.2 C419.4,298.1 423.1,299.9 426.8,301.0 C430.5,302.1 434.2,303.0 437.9,303.9 C441.6,304.8 445.0,305.4 449.1,306.1 C453.2,306.8 458.9,307.5 462.8,308.1 C466.8,308.7 469.3,309.2 472.8,309.5 C476.3,309.8 480.3,309.7 484.0,309.9 C487.7,310.1 491.4,310.3 495.1,310.6 C498.8,310.9 502.6,311.1 506.3,311.5 C510.0,311.9 513.7,312.1 517.4,312.8 C521.1,313.5 525.7,314.6 528.5,315.5 C531.3,316.4 533.2,317.8 534.1,318.2"/><path stroke="#0000ff" d="M382.2,318.2 C384.1,318.1 389.7,317.4 393.4,317.3 C397.1,317.2 400.8,317.2 404.5,317.7 C408.2,318.2 412.0,319.3 415.7,320.4 C419.4,321.5 423.1,323.0 426.8,324.4 C430.5,325.8 434.2,327.5 437.9,328.9 C441.6,330.3 445.0,331.6 449.1,332.9 C453.2,334.2 458.9,335.8 462.8,336.6 C466.8,337.4 469.3,337.6 472.8,337.8 C476.3,338.0 480.3,337.9 484.0,337.8 C487.7,337.7 491.4,337.3 495.1,337.1 C498.8,336.9 502.6,336.5 506.3,336.6 C510.0,336.7 513.7,337.2 517.4,337.8 C521.1,338.4 525.7,339.5 528.5,340.4 C531.3,341.3 533.2,342.8 534.1,343.3"/><path stroke="#ff8000" d="M382.2,341.6 C384.1,341.8 389.7,342.0 393.4,342.7 C397.1,343.4 400.8,344.4 404.5,345.6 C408.2,346.8 412.0,348.5 415.7,350.0 C419.4,351.5 423.1,353.1 426.8,354.5 C430.5,355.9 434.2,357.1 437.9,358.3 C441.6,359.5 445.0,360.8 449.1,361.6 C453.2,362.5 458.9,363.2 462.8,363.4 C466.8,363.6 469.3,363.1 472.8,362.7 C476.3,362.3 480.3,361.7 484.0,361.2 C487.7,360.7 491.4,359.9 495.1,359.6 C498.8,359.3 502.6,359.3 506.3,359.4 C510.0,359.5 513.7,359.6 517.4,360.0 C521.1,360.4 525.7,361.3 528.5,361.8 C531.3,362.3 533.2,362.7 534.1,362.9"/></g><path d="M462.6,261.8 V369" stroke="#000" stroke-width="2" stroke-dasharray="11 5.4 2.2 5.4"/><path d="M381.5,384.2 V388 M411.1,384.2 V388 M440.7,384.2 V388 M470.3,384.2 V388 M499.9,384.2 V388 M529.5,384.2 V388 M396.3,384.2 V386.2 M425.9,384.2 V386.2 M455.5,384.2 V386.2 M485.1,384.2 V386.2 M514.7,384.2 V386.2" stroke="#000" stroke-width="1"/><g font-family="Liberation Serif" font-size="9.5" text-anchor="middle" fill="#000"><text x="381.5" y="398.6">1275</text><text x="411.1" y="398.6">1270</text><text x="440.7" y="398.6">1265</text><text x="470.3" y="398.6">1260</text><text x="499.9" y="398.6">1255</text><text x="529.5" y="398.6">1250</text></g><text x="404.3" y="411.2" font-family="Liberation Serif" font-size="13" fill="#000">Wavenumber (cm<tspan font-size="9" dy="-5">−1</tspan><tspan dy="5">)</tspan></text><text transform="translate(376.8,374.2) rotate(-90)" font-family="Liberation Serif" font-size="13" fill="#000">Transmittance (a.u.)</text><text x="423.3" y="377.3" font-family="Liberation Serif" font-size="16.5" fill="#000">1261</text></svg></body></html>
